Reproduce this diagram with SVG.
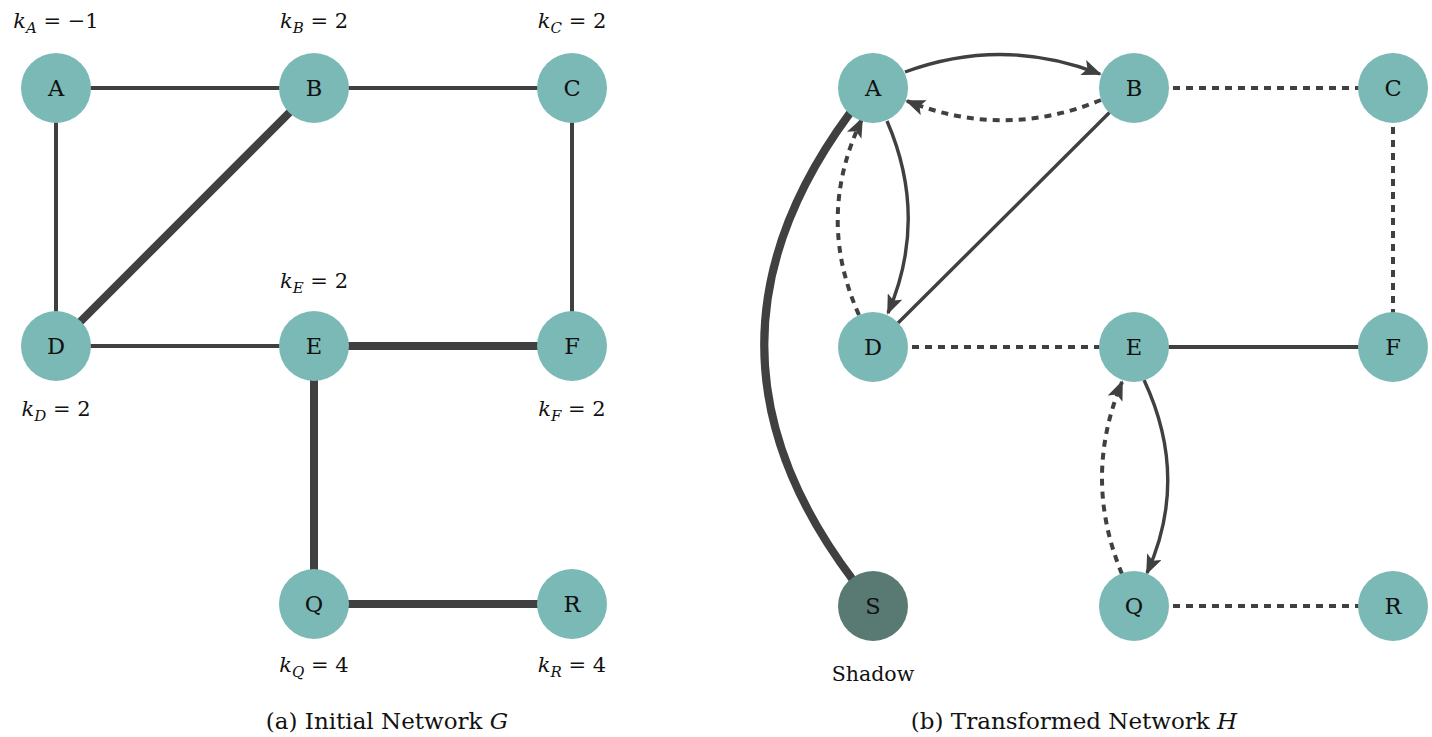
<svg xmlns="http://www.w3.org/2000/svg" width="1432" height="737" viewBox="0 0 1432 737">
<style>
.n{fill:#7ab9b5}
.s{fill:#587a72}
.t{font-family:"DejaVu Serif","Liberation Serif",serif;font-size:22.5px;fill:#111;text-anchor:middle}
.k{font-family:"DejaVu Serif","Liberation Serif",serif;font-size:21px;fill:#111;text-anchor:middle}
.sh{font-family:"DejaVu Serif","Liberation Serif",serif;font-size:20.5px;fill:#111;text-anchor:middle}
.cap{font-family:"DejaVu Serif","Liberation Serif",serif;font-size:23px;fill:#111;text-anchor:middle}
.e{stroke:#404040;fill:none;stroke-width:4}
.thick{stroke-width:8}
.d{stroke-dasharray:7 6}
.c{stroke-width:3.4}
</style>
<defs>
<marker id="ar" markerUnits="userSpaceOnUse" markerWidth="20" markerHeight="16" refX="18" refY="8" orient="auto">
<path d="M0,0 L20,8 L0,16 L4.5,8 Z" fill="#404040"/>
</marker>
</defs>
<g id="connectors">
<line class="e" x1="56" y1="88" x2="314" y2="88"/>
<line class="e" x1="314" y1="88" x2="572" y2="88"/>
<line class="e" x1="56" y1="88" x2="56" y2="346"/>
<line class="e" x1="572" y1="88" x2="572" y2="346"/>
<line class="e" x1="56" y1="346" x2="314" y2="346"/>
<line class="e thick" x1="314" y1="88" x2="56" y2="346"/>
<line class="e thick" x1="314" y1="346" x2="572" y2="346"/>
<line class="e thick" x1="314" y1="346" x2="314" y2="604"/>
<line class="e thick" x1="314" y1="604" x2="572" y2="604"/>
<line class="e d" x1="1134" y1="88" x2="1393" y2="88"/>
<line class="e d" x1="1393" y1="88" x2="1393" y2="347"/>
<line class="e d" x1="873" y1="347" x2="1134" y2="347"/>
<line class="e" x1="1134" y1="347" x2="1393" y2="347"/>
<line class="e d" x1="1134" y1="606" x2="1393" y2="606"/>
<line class="e c" x1="1112" y1="110" x2="896" y2="325"/>
<path class="e thick" d="M850,113 Q677,347 853,580"/>
<path class="e c" d="M905,72 Q1003,36 1100,74" marker-end="url(#ar)"/>
<path class="e d" d="M1101,100 Q1004,140 907,101" marker-end="url(#ar)"/>
<path class="e c" d="M887,121 Q929,218 888,313" marker-end="url(#ar)"/>
<path class="e d" d="M859,315 Q815,217 862,119" marker-end="url(#ar)"/>
<path class="e c" d="M1144,380 Q1190,478 1147,573" marker-end="url(#ar)"/>
<path class="e d" d="M1122,574 Q1082,478 1122,382" marker-end="url(#ar)"/>
</g>
<g id="nA"><circle class="n" cx="56" cy="88" r="35"/><text class="t" x="56" y="96">A</text></g>
<g id="nB"><circle class="n" cx="314" cy="88" r="35"/><text class="t" x="314" y="96">B</text></g>
<g id="nC"><circle class="n" cx="572" cy="88" r="35"/><text class="t" x="572" y="96">C</text></g>
<g id="nD"><circle class="n" cx="56" cy="346" r="35"/><text class="t" x="56" y="354">D</text></g>
<g id="nE"><circle class="n" cx="314" cy="346" r="35"/><text class="t" x="314" y="354">E</text></g>
<g id="nF"><circle class="n" cx="572" cy="346" r="35"/><text class="t" x="572" y="354">F</text></g>
<g id="nQ"><circle class="n" cx="314" cy="604" r="35"/><text class="t" x="314" y="612">Q</text></g>
<g id="nR"><circle class="n" cx="572" cy="604" r="35"/><text class="t" x="572" y="612">R</text></g>
<g id="hA"><circle class="n" cx="873" cy="88" r="35"/><text class="t" x="873" y="96">A</text></g>
<g id="hB"><circle class="n" cx="1134" cy="88" r="35"/><text class="t" x="1134" y="96">B</text></g>
<g id="hC"><circle class="n" cx="1393" cy="88" r="35"/><text class="t" x="1393" y="96">C</text></g>
<g id="hD"><circle class="n" cx="873" cy="347" r="35"/><text class="t" x="873" y="355">D</text></g>
<g id="hE"><circle class="n" cx="1134" cy="347" r="35"/><text class="t" x="1134" y="355">E</text></g>
<g id="hF"><circle class="n" cx="1393" cy="347" r="35"/><text class="t" x="1393" y="355">F</text></g>
<g id="hS"><circle class="s" cx="873" cy="606" r="35"/><text class="t" x="873" y="614">S</text><text class="sh" x="873" y="681">Shadow</text></g>
<g id="hQ"><circle class="n" cx="1134" cy="606" r="35"/><text class="t" x="1134" y="614">Q</text></g>
<g id="hR"><circle class="n" cx="1393" cy="606" r="35"/><text class="t" x="1393" y="614">R</text></g>
<g id="labels">
<text class="k" x="56" y="28"><tspan font-style="italic">k</tspan><tspan font-style="italic" font-size="15" dy="5">A</tspan><tspan dy="-5"> = −1</tspan></text>
<text class="k" x="314" y="28"><tspan font-style="italic">k</tspan><tspan font-style="italic" font-size="15" dy="5">B</tspan><tspan dy="-5"> = 2</tspan></text>
<text class="k" x="572" y="28"><tspan font-style="italic">k</tspan><tspan font-style="italic" font-size="15" dy="5">C</tspan><tspan dy="-5"> = 2</tspan></text>
<text class="k" x="314" y="288"><tspan font-style="italic">k</tspan><tspan font-style="italic" font-size="15" dy="5">E</tspan><tspan dy="-5"> = 2</tspan></text>
<text class="k" x="56" y="416"><tspan font-style="italic">k</tspan><tspan font-style="italic" font-size="15" dy="5">D</tspan><tspan dy="-5"> = 2</tspan></text>
<text class="k" x="572" y="416"><tspan font-style="italic">k</tspan><tspan font-style="italic" font-size="15" dy="5">F</tspan><tspan dy="-5"> = 2</tspan></text>
<text class="k" x="314" y="672"><tspan font-style="italic">k</tspan><tspan font-style="italic" font-size="15" dy="5">Q</tspan><tspan dy="-5"> = 4</tspan></text>
<text class="k" x="572" y="672"><tspan font-style="italic">k</tspan><tspan font-style="italic" font-size="15" dy="5">R</tspan><tspan dy="-5"> = 4</tspan></text>
<text class="cap" x="387" y="729">(a) Initial Network <tspan font-style="italic">G</tspan></text>
<text class="cap" x="1074" y="729">(b) Transformed Network <tspan font-style="italic">H</tspan></text>
</g>
</svg>
